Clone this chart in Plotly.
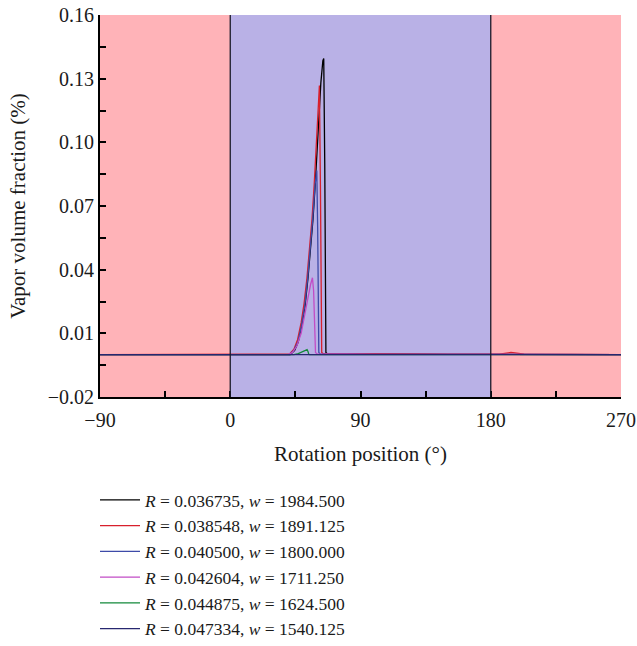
import plotly.graph_objects as go

# ---------------- data ----------------
names = [
    "<i>R</i> = 0.036735, <i>w</i> = 1984.500",
    "<i>R</i> = 0.038548, <i>w</i> = 1891.125",
    "<i>R</i> = 0.040500, <i>w</i> = 1800.000",
    "<i>R</i> = 0.042604, <i>w</i> = 1711.250",
    "<i>R</i> = 0.044875, <i>w</i> = 1624.500",
    "<i>R</i> = 0.047334, <i>w</i> = 1540.125",
]
colors = ["#000000", "#d8202c", "#3d4aa8", "#c24cc6", "#12893a", "#27276f"]

x_black = [-90, 41.5, 44.5, 47, 49.5, 51.7, 53.7, 55.7, 57.2, 58.7, 60.2, 61.2, 62.6, 64.0, 64.6, 65.3, 66.1, 67, 100, 150, 180, 270]
y_black = [0, 0, 0.002, 0.006, 0.014, 0.023, 0.036, 0.050, 0.064, 0.080, 0.100, 0.113, 0.128, 0.1385, 0.1395, 0.090, 0.001, 0.0004, 0.0002, 0.0001, 0.0001, 0]

x_red = [-90, 39, 41, 44, 46.5, 49, 51, 53, 55, 56.5, 58, 59.5, 60.5, 61.6, 62.3, 63.2, 64, 100, 150, 186, 190, 194, 198, 203, 270]
y_red = [0, 0, 0.0003, 0.0025, 0.007, 0.015, 0.024, 0.036, 0.050, 0.064, 0.080, 0.100, 0.113, 0.1268, 0.080, 0.001, 0.0005, 0.0003, 0.0002, 0.0002, 0.0007, 0.0010, 0.0007, 0.0002, 0]

x_blue = [-90, 41, 44, 46.8, 49.3, 51.5, 53.5, 55.5, 57, 58.6, 59.8, 60.4, 61.2, 62, 100, 270]
y_blue = [0, 0, 0.002, 0.006, 0.014, 0.023, 0.036, 0.050, 0.064, 0.080, 0.0867, 0.060, 0.001, 0.0003, 0.0001, 0]

x_mag = [-90, 40, 43, 46, 49, 51.5, 53.5, 55.5, 56.8, 57.6, 58.9, 60, 100, 270]
y_mag = [0, 0, 0.001, 0.004, 0.010, 0.018, 0.026, 0.033, 0.0362, 0.030, 0.001, 0.0003, 0.0001, 0]

x_green = [-90, 44, 47, 50, 52.2, 53.1, 53.7, 54.3, 55, 270]
y_green = [0, 0, 0.0004, 0.0012, 0.0021, 0.0023, 0.0015, 0.0001, 0, 0]

x_navy = [-90, 0, 90, 180, 270]
y_navy = [0, 0, 0, 0, 0]

xs = [x_black, x_red, x_blue, x_mag, x_green, x_navy]
ys = [y_black, y_red, y_blue, y_mag, y_green, y_navy]

x_ticks = [-90, 0, 90, 180, 270]
x_tick_labels = ["\u221290", "0", "90", "180", "270"]
y_ticks = [-0.02, 0.01, 0.04, 0.07, 0.10, 0.13, 0.16]
y_tick_labels = ["\u22120.02", "0.01", "0.04", "0.07", "0.10", "0.13", "0.16"]

zones = [(-90, 0, "#ffb3b8"), (0, 180, "#b9b1e6"), (180, 270, "#ffb3b8")]

# ---------------- figure ----------------
FONT = "Liberation Serif"
fig = go.Figure()
for name, c, x, y in zip(names, colors, xs, ys):
    fig.add_trace(go.Scatter(x=x, y=y, mode="lines", name=name,
                             line=dict(color=c, width=1.3)))

for x0, x1, col in zones:
    fig.add_shape(type="rect", xref="x", yref="y", x0=x0, x1=x1, y0=-0.02, y1=0.16,
                  fillcolor=col, line=dict(width=0), layer="below")
for xv in (0, 180):
    fig.add_shape(type="line", xref="x", yref="y", x0=xv, x1=xv, y0=-0.02, y1=0.16,
                  line=dict(color="#1a1a2a", width=1.3), layer="above")

fig.update_layout(
    width=637, height=646,
    margin=dict(l=100, r=16, t=15, b=249),
    paper_bgcolor="white", plot_bgcolor="white",
    font=dict(family=FONT, size=20, color="#1a1a1a"),
    showlegend=True,
    legend=dict(xref="paper", yref="container", x=-5 / 521, y=1 - 482 / 646,
                xanchor="left", yanchor="top", itemwidth=40,
                font=dict(family=FONT, size=17.5), bgcolor="rgba(0,0,0,0)"),
)
fig.update_xaxes(
    range=[-90, 270], tickvals=x_ticks, ticktext=x_tick_labels, automargin=False,
    ticks="inside", ticklen=6, tickwidth=1.5, tickcolor="black", ticklabelstandoff=4,
    minor=dict(tickvals=[-45, 45, 135, 225], ticks="inside", ticklen=6, tickwidth=1.5, tickcolor="black"),
    showline=True, linecolor="black", linewidth=2, showgrid=False, zeroline=False,
    title=dict(text="Rotation position (°)", standoff=16, font=dict(family=FONT, size=21)),
)
fig.update_yaxes(
    range=[-0.02, 0.16], tickvals=y_ticks, ticktext=y_tick_labels, automargin=False,
    ticks="inside", ticklen=6, tickwidth=1.5, tickcolor="black",
    minor=dict(tickvals=[-0.005, 0.025, 0.055, 0.085, 0.115, 0.145], ticks="inside", ticklen=6, tickwidth=1.5, tickcolor="black"),
    showline=True, linecolor="black", linewidth=2, showgrid=False, zeroline=False,
    title=dict(text="Vapor volume fraction (%)", standoff=16, font=dict(family=FONT, size=21)),
)

fig.write_html("out.html")
